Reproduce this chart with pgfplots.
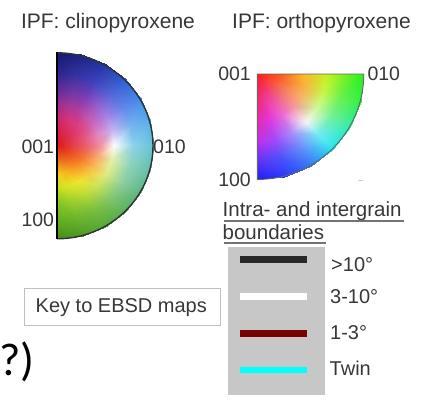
\documentclass[border=0pt]{standalone}
\usepackage{pgfplots}
\pgfplotsset{compat=1.18}
\usepackage{fontspec}
\setmainfont{Liberation Sans}
\newfontfamily\carlito{Carlito}
\definecolor{txt}{RGB}{55,55,55}
\definecolor{boxgray}{RGB}{199,199,199}
\definecolor{darkred}{RGB}{120,0,0}
\definecolor{bcyan}{RGB}{0,255,255}
\definecolor{bblack}{RGB}{40,40,40}
\begin{document}
\begin{tikzpicture}
\useasboundingbox (0,0) rectangle (424pt,404pt);
\begin{axis}[at={(0,0)}, anchor=south west, scale only axis,
  width=424pt, height=404pt, xmin=0, xmax=424, ymin=0, ymax=404,
  y dir=reverse, hide axis, clip=false]
% clinopyroxene key (half ellipse), colour mesh
\addplot[surf, shader=interp, mesh/color input=explicit, point meta=explicit symbolic, mesh/cols=6] table[meta=c] {
x y c
57 145.8 rgb255=220,25,25
57 117.9 rgb255=205,35,110
57 103.95 rgb255=160,40,140
57 90.0 rgb255=100,40,150
57 71.4 rgb255=40,35,140
57 52.8 rgb255=22,22,105

57 145.8 rgb255=220,25,25
64.45 118.85 rgb255=210,45,120
68.18 105.38 rgb255=165,55,150
71.91 91.9 rgb255=110,55,165
76.88 73.94 rgb255=50,50,160
82.09 55.07 rgb255=28,35,130

57 145.8 rgb255=220,25,25
71.4 121.64 rgb255=215,55,125
78.6 109.56 rgb255=175,60,160
85.8 97.48 rgb255=125,60,180
95.4 81.37 rgb255=60,65,190
105.48 64.46 rgb255=35,55,165

57 145.8 rgb255=220,25,25
77.36 126.07 rgb255=220,60,130
87.55 116.21 rgb255=190,85,175
97.73 106.34 rgb255=150,95,205
111.31 93.19 rgb255=80,100,215
125.56 79.38 rgb255=45,95,210

57 145.8 rgb255=220,25,25
81.94 131.85 rgb255=225,70,130
94.41 124.87 rgb255=205,105,190
106.88 117.9 rgb255=170,130,230
123.51 108.6 rgb255=100,135,235
140.97 98.83 rgb255=65,140,235

57 145.8 rgb255=220,25,25
84.82 138.58 rgb255=230,85,125
98.73 134.97 rgb255=225,135,195
112.64 131.36 rgb255=200,180,240
131.18 126.54 rgb255=120,180,240
150.66 121.49 rgb255=85,175,230

57 145.8 rgb255=220,25,25
85.8 145.8 rgb255=235,90,110
100.2 145.8 rgb255=240,140,160
114.6 145.8 rgb255=252,252,252
133.8 145.8 rgb255=140,210,235
153.96 145.8 rgb255=105,195,215

57 145.8 rgb255=220,25,25
84.82 153.02 rgb255=240,105,75
98.73 156.63 rgb255=248,170,115
112.64 160.24 rgb255=225,240,170
131.18 165.06 rgb255=140,210,190
150.66 170.11 rgb255=100,190,170

57 145.8 rgb255=220,25,25
81.94 159.75 rgb255=245,120,45
94.41 166.73 rgb255=250,185,80
106.88 173.7 rgb255=225,235,130
123.51 183.0 rgb255=140,205,160
140.97 192.77 rgb255=95,180,135

57 145.8 rgb255=220,25,25
77.36 165.53 rgb255=247,140,38
87.55 175.39 rgb255=245,205,60
97.73 185.26 rgb255=205,228,90
111.31 198.41 rgb255=130,198,110
125.56 212.22 rgb255=90,175,95

57 145.8 rgb255=220,25,25
71.4 169.96 rgb255=248,160,35
78.6 182.04 rgb255=240,228,45
85.8 194.12 rgb255=190,220,55
95.4 210.23 rgb255=122,190,62
105.48 227.14 rgb255=88,168,58

57 145.8 rgb255=220,25,25
64.45 172.75 rgb255=246,180,32
68.18 186.22 rgb255=222,228,38
71.91 199.7 rgb255=165,210,45
76.88 217.66 rgb255=110,183,45
82.09 236.53 rgb255=78,152,40

57 145.8 rgb255=220,25,25
57 173.7 rgb255=245,200,30
57 187.65 rgb255=200,225,30
57 201.6 rgb255=140,200,30
57 220.2 rgb255=100,175,30
57 238.8 rgb255=70,140,25
};
% orthopyroxene key (quarter ellipse), colour mesh
\addplot[surf, shader=interp, mesh/color input=explicit, point meta=explicit symbolic, mesh/cols=6] table[meta=c] {
x y c
257.3 74 rgb255=255,25,25
283.93 74 rgb255=250,100,30
305.23 74 rgb255=250,190,30
326.53 74 rgb255=200,240,30
344.63 74 rgb255=120,240,30
363.8 74 rgb255=40,240,30

257.3 74 rgb255=255,25,25
283.02 80.83 rgb255=250,105,50
303.6 86.29 rgb255=250,175,65
324.17 91.75 rgb255=200,245,70
341.65 96.39 rgb255=105,240,75
361.2 101.58 rgb255=50,240,70

257.3 74 rgb255=255,25,25
280.36 87.19 rgb255=245,110,80
298.81 97.74 rgb255=250,170,110
317.25 108.29 rgb255=205,250,150
332.93 117.26 rgb255=110,240,150
350.46 127.28 rgb255=50,235,170

257.3 74 rgb255=255,25,25
276.13 92.65 rgb255=240,95,115
291.19 107.57 rgb255=245,140,160
306.25 122.49 rgb255=245,245,245
319.05 135.17 rgb255=110,235,245
333.36 149.35 rgb255=40,230,240

257.3 74 rgb255=255,25,25
270.62 96.85 rgb255=240,70,150
281.27 115.12 rgb255=235,100,215
291.92 133.39 rgb255=170,140,250
300.97 148.92 rgb255=100,140,250
311.09 166.28 rgb255=50,120,250

257.3 74 rgb255=255,25,25
264.19 99.48 rgb255=240,55,150
269.7 119.86 rgb255=225,55,220
275.22 140.24 rgb255=160,75,250
279.9 157.56 rgb255=80,80,250
285.14 176.93 rgb255=40,60,250

257.3 74 rgb255=255,25,25
257.3 100.38 rgb255=245,40,110
257.3 121.48 rgb255=235,40,180
257.3 142.58 rgb255=190,45,240
257.3 160.51 rgb255=100,50,245
257.3 179.5 rgb255=30,30,250
};
% boundary key: grey panel and the four line styles
\addplot[draw=none, fill=boxgray] coordinates {(228.3,247.3) (325,247.3) (325,395) (228.3,395)} -- cycle;
\addplot[bblack, line width=6.8pt] coordinates {(240,259.3) (307,259.3)};
\addplot[white, line width=6.8pt] coordinates {(240,296.7) (307,296.7)};
\addplot[darkred, line width=6.8pt] coordinates {(240,333.3) (307,333.3)};
\addplot[bcyan, line width=6.8pt] coordinates {(240,370) (307,370)};
% outlines
\draw[black!80, line width=1.4pt] (axis cs:57,52.8) arc[start angle=90, end angle=-90, x radius=96pt, y radius=93pt];
\draw[black, line width=2.4pt] (axis cs:57,52.3) -- (axis cs:57,239.3);
\draw[black!60, line width=0.9pt] (axis cs:257.3,179.5) -- (axis cs:257.3,74) -- (axis cs:363.8,74) arc[start angle=0, end angle=-90, x radius=106.5pt, y radius=105.5pt];
\draw[black!20, line width=0.8pt] (axis cs:358,180.5) -- (axis cs:363,180.5);
% titles and labels
\node[anchor=base, text=txt, font=\fontsize{21}{25}\selectfont, inner sep=0] at (axis cs:108,28.3) {IPF: clinopyroxene};
\node[anchor=base, text=txt, font=\fontsize{21}{25}\selectfont, inner sep=0] at (axis cs:321.5,28.3) {IPF: orthopyroxene};
\node[anchor=base east, text=txt, font=\fontsize{19.5}{23}\selectfont, inner sep=0] at (axis cs:54.3,153.3) {001};
\node[anchor=base west, text=txt, font=\fontsize{19.5}{23}\selectfont, inner sep=0] at (axis cs:153,153.3) {010};
\node[anchor=base east, text=txt, font=\fontsize{19.5}{23}\selectfont, inner sep=0] at (axis cs:54.3,226) {100};
\node[anchor=base east, text=txt, font=\fontsize{19.5}{23}\selectfont, inner sep=0] at (axis cs:251,80.7) {001};
\node[anchor=base west, text=txt, font=\fontsize{19.5}{23}\selectfont, inner sep=0] at (axis cs:367.3,80.7) {010};
\node[anchor=base east, text=txt, font=\fontsize{19.5}{23}\selectfont, inner sep=0] at (axis cs:251,186.7) {100};
\node[anchor=base west, text=txt, font=\fontsize{20.5}{24}\selectfont, inner sep=0] at (axis cs:222.5,216.7) {Intra- and intergrain};
\node[anchor=base west, text=txt, font=\fontsize{20.5}{24}\selectfont, inner sep=0] at (axis cs:222.5,239.3) {boundaries};
\draw[black!55, line width=1.3pt] (axis cs:224,221) -- (axis cs:404,221);
\draw[black!55, line width=1.3pt] (axis cs:224,243) -- (axis cs:326,243);
\node[anchor=base west, text=txt, font=\fontsize{20}{24}\selectfont, inner sep=0] at (axis cs:331,271.7) {>10°};
\node[anchor=base west, text=txt, font=\fontsize{20}{24}\selectfont, inner sep=0] at (axis cs:330,303.3) {3-10°};
\node[anchor=base west, text=txt, font=\fontsize{20}{24}\selectfont, inner sep=0] at (axis cs:330,340) {1-3°};
\node[anchor=base west, text=txt, font=\fontsize{20}{24}\selectfont, inner sep=0] at (axis cs:329.5,375) {Twin};
\draw[black!25, line width=1pt] (axis cs:24.3,288.3) rectangle (axis cs:220.7,325);
\node[anchor=base west, text=txt, font=\fontsize{20}{24}\selectfont, inner sep=0] at (axis cs:35.5,312.7) {Key to EBSD maps};
\node[anchor=base east, text=black, font=\carlito\fontsize{46}{50}\selectfont, inner sep=0] at (axis cs:34.5,375) {?)};
\end{axis}
\end{tikzpicture}
\end{document}
